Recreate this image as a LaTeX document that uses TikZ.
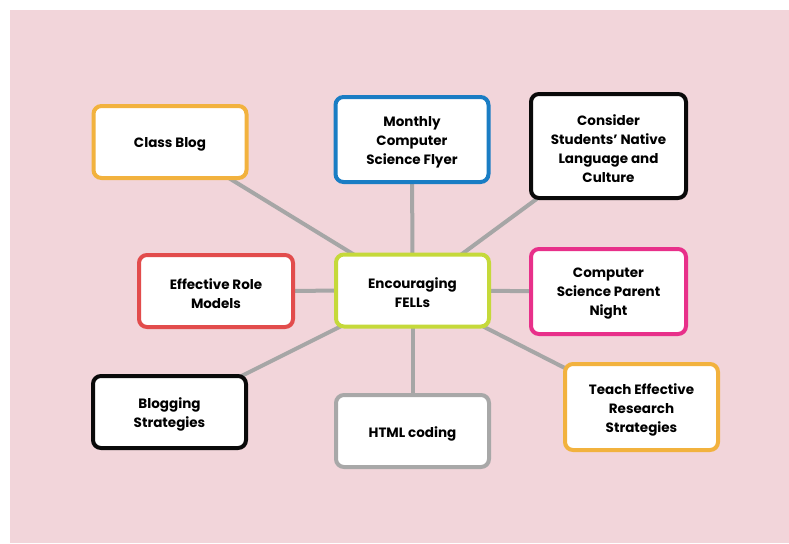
\documentclass[tikz,border=0pt]{standalone}
\usepackage{fontspec}
\setmainfont{Poppins}
\usetikzlibrary{backgrounds}
\definecolor{bgpink}{RGB}{242,213,218}
\definecolor{linkgray}{RGB}{166,166,166}
\definecolor{cOrange}{RGB}{242,178,62}
\definecolor{cBlue}{RGB}{26,125,196}
\definecolor{cRed}{RGB}{226,76,76}
\definecolor{cLime}{RGB}{197,217,58}
\definecolor{cMagenta}{RGB}{232,48,138}
\definecolor{cGray}{RGB}{168,168,168}
\definecolor{cBlack}{RGB}{10,10,10}
\tikzset{
  box/.style={draw=#1, line width=4pt, rounded corners=8pt, fill=white,
    minimum width=153pt, minimum height=72pt, inner sep=0pt},
  txt/.style={align=center, font=\fontsize{13.5}{19}\selectfont\bfseries,
    text=black, inner sep=0pt},
  link/.style={draw=linkgray, line width=4pt}
}
\newcommand{\boxlabel}[2]{\node[txt] (#1-t) at ([yshift=-2.5pt]#1.center) {#2};}
\begin{document}
\begin{tikzpicture}[x=1pt,y=-1pt]
\useasboundingbox (0,0) rectangle (789,543);

\node[box=cLime] (center) at (412.5,290.5) {};
\node[box=cOrange] (classblog) at (170,142) {};
\node[box=cBlue, minimum height=85pt] (monthly) at (412,139.5) {};
\node[box=cBlack, minimum width=155pt, minimum height=104pt] (consider) at (608.5,146) {};
\node[box=cRed, minimum width=154pt] (roles) at (216,291) {};
\node[box=cMagenta, minimum width=155pt, minimum height=85pt] (parent) at (608.5,291.5) {};
\node[box=cBlack] (blogging) at (169.5,412) {};
\node[box=cGray] (html) at (412.5,431) {};
\node[box=cOrange, minimum height=86pt] (teach) at (641.5,407) {};

\boxlabel{center}{Encouraging\\FELLs}
\boxlabel{classblog}{Class Blog}
\boxlabel{monthly}{Monthly\\Computer\\Science Flyer}
\boxlabel{consider}{Consider\\Students’ Native\\Language and\\Culture}
\boxlabel{roles}{Effective Role\\Models}
\boxlabel{parent}{Computer\\Science Parent\\Night}
\boxlabel{blogging}{Blogging\\Strategies}
\boxlabel{html}{HTML coding}
\boxlabel{teach}{Teach Effective\\Research\\Strategies}

\begin{scope}[on background layer]
\fill[white] (0,0) rectangle (789,543);
\fill[bgpink] (10,10) rectangle (789,543);
\foreach \n in {classblog,monthly,consider,roles,parent,blogging,html,teach}
  \draw[link] (center.center) -- (\n.center);
\end{scope}
\end{tikzpicture}
\end{document}
